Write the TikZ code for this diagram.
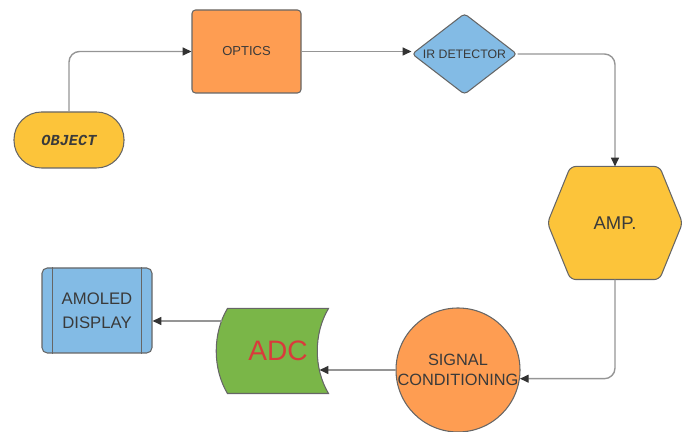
\documentclass[tikz,border=0pt]{standalone}
\usepackage{fontspec}
\setmainfont{Liberation Sans}
\setmonofont{Liberation Mono}
\usepackage{xcolor}
\usetikzlibrary{shapes.geometric, arrows.meta, backgrounds}
\definecolor{boxyellow}{HTML}{FCC43A}
\definecolor{boxorange}{HTML}{FE9D52}
\definecolor{boxblue}{HTML}{83BBE5}
\definecolor{boxgreen}{HTML}{7AB648}
\definecolor{adcred}{HTML}{D93B3B}
\definecolor{boxline}{HTML}{666666}
\definecolor{boxtext}{HTML}{3A3A3A}
\definecolor{connline}{HTML}{959595}
\definecolor{arrowhead}{HTML}{333333}
\tikzset{
	shapeline/.style = {draw = boxline, line width = 0.6pt},
	box/.style = {shapeline, text = boxtext, inner sep = 0pt, align = center},
	labeltext/.style = {text = boxtext, inner sep = 0pt, align = center},
	conn/.style = {draw = connline, line width = 0.8pt, rounded corners = 6pt,
		-{Triangle[length = 5pt, width = 4.5pt, color = arrowhead]}}
}

\begin{document}
\begin{tikzpicture}
		% 范围
		\useasboundingbox (0, 0) rectangle (13.76, 8.64);
		% 方框
		\node [box, fill = boxyellow, rounded corners = 0.55cm,
			minimum width = 2.2cm, minimum height = 1.12cm,
			font = \ttfamily\bfseries\itshape\fontsize{8.7}{10}\selectfont]
			(object) at (1.38, 5.84) {OBJECT};
		\node [box, fill = boxorange, rounded corners = 2pt,
			minimum width = 2.18cm, minimum height = 1.66cm,
			font = \fontsize{7.4}{8}\selectfont]
			(optics) at (4.93, 7.61) {OPTICS};
		\node [box, diamond, fill = boxblue, rounded corners = 2pt,
			minimum width = 2.1cm, minimum height = 1.62cm,
			label = {[labeltext, font = \fontsize{7}{8}\selectfont]center:IR DETECTOR}]
			(detector) at (9.29, 7.56) {};
		\node [box, draw = none, minimum width = 2.68cm, minimum height = 2.24cm,
			font = \fontsize{10.5}{12}\selectfont]
			(amp) at (12.3, 4.18) {AMP.};
		\node [box, circle, fill = boxorange, minimum size = 2.48cm,
			label = {[labeltext, font = \fontsize{9.3}{11.4}\selectfont]center:SIGNAL\\CONDITIONING}]
			(signal) at (9.16, 1.24) {};
		\node [box, draw = none, text = adcred, minimum width = 2.0cm, minimum height = 1.68cm,
			font = \fontsize{16}{18}\selectfont]
			(adc) at (5.56, 1.62) {ADC};
		\node [box, fill = boxblue, rounded corners = 3pt,
			minimum width = 2.2cm, minimum height = 1.7cm,
			font = \fontsize{9.5}{13.6}\selectfont]
			(display) at (1.94, 2.43) {AMOLED\\DISPLAY};
		\draw [shapeline] ([xshift = 0.22cm]display.north west) -- ([xshift = 0.22cm]display.south west);
		\draw [shapeline] ([xshift = -0.22cm]display.north east) -- ([xshift = -0.22cm]display.south east);
		% 外形
		\begin{scope}[on background layer]
			\draw [shapeline, fill = boxyellow, rounded corners = 3pt]
			(amp.west) -- ([xshift = 0.46cm]amp.north west) --
			([xshift = -0.46cm]amp.north east) -- (amp.east) --
			([xshift = -0.46cm]amp.south east) --
			([xshift = 0.46cm]amp.south west) -- cycle;
			\draw [shapeline, fill = boxgreen]
			(adc.north west) .. controls +(-0.3, -0.5) and +(-0.3, 0.5) .. (adc.south west) --
			(adc.south east) .. controls +(-0.3, 0.5) and +(-0.3, -0.5) .. (adc.north east) -- cycle;
		\end{scope}
		\coordinate (adcin) at ([xshift = -0.18cm, yshift = -0.4cm]adc.east);
		\coordinate (adcout) at ([xshift = -0.11cm, yshift = 0.6cm]adc.west);
		% 箭头
		\draw [conn] (object.north) |- (optics.west);
		\draw [conn] (optics.east) -- (optics.east -| detector.west);
		\draw [conn] (detector.east) -| (amp.north);
		\draw [conn] (amp.south) |- (signal.-8);
		\draw [conn] (signal.west) -- (signal.west -| adcin);
		\draw [conn] (adcout) -- (adcout -| display.east);
	\end{tikzpicture}
\end{document}
